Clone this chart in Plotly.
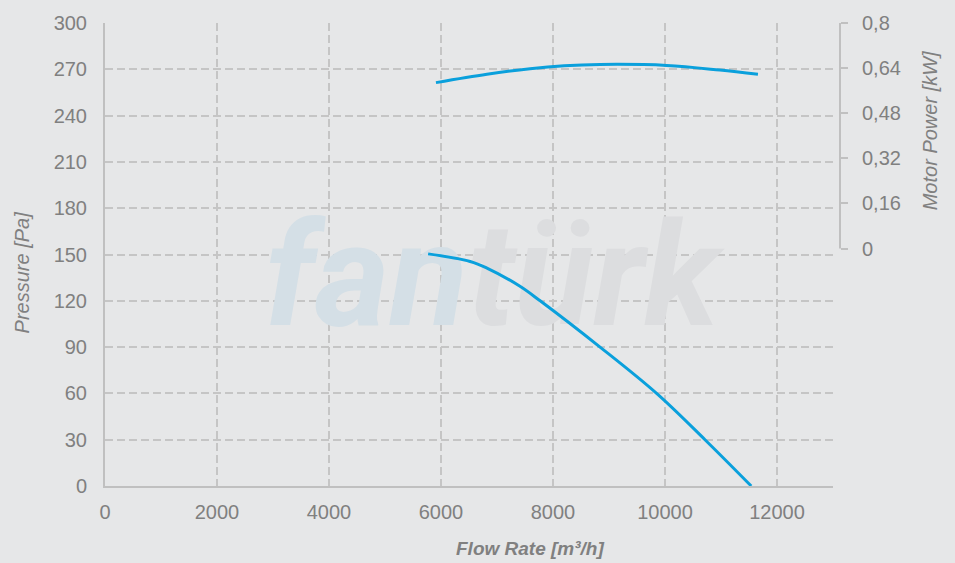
import plotly.graph_objects as go

# ---- data ----
flow_pressure = [5770, 6520, 6820, 7410, 7770, 8840, 9850, 10714, 11540]
pressure_pa = [150.4, 145.5, 141.2, 129.4, 120.0, 90.0, 60.0, 30.0, 0.0]

flow_power = [5910, 6820, 7590, 8200, 8840, 10030, 10980, 11660]
power_kw = [0.5885, 0.618, 0.638, 0.6485, 0.653, 0.6495, 0.633, 0.618]

x_ticks = [0, 2000, 4000, 6000, 8000, 10000, 12000]
y_ticks = [0, 30, 60, 90, 120, 150, 180, 210, 240, 270, 300]
y2_ticks = [0, 0.16, 0.32, 0.48, 0.64, 0.8]
y2_ticktext = ["0", "0,16", "0,32", "0,48", "0,64", "0,8"]

X_RANGE = [0, 13000]
Y_RANGE = [0, 300]
Y2_MAX = 0.8
Y2_MIN = -0.8423  # so that 0 kW sits at half height of the plot like the reference

BG = "#e6e7e8"
GRID = "#c5c5c5"
AXIS = "#c0c0c0"
TXT = "#808080"
LINE = "#0aa0dc"
FONT = "Liberation Sans, Arial, sans-serif"

fig = go.Figure()

# watermark (behind the curves)
fig.add_trace(go.Scatter(
    x=[X_RANGE[1] * 0.5314], y=[Y_RANGE[1] * 0.425],
    mode="text",
    text=["<span style='color:#d4dfe6'>fan</span><span style='color:#dcdddf'>türk</span>"],
    textposition="middle center",
    textfont=dict(family="Roboto, Liberation Sans, sans-serif",
                  size=144, weight="bold", style="italic"),
    hoverinfo="skip", showlegend=False,
))

fig.add_trace(go.Scatter(
    x=flow_pressure, y=pressure_pa, mode="lines",
    line=dict(color=LINE, width=3, shape="spline", smoothing=1.0),
    showlegend=False, name="Pressure",
))
fig.add_trace(go.Scatter(
    x=flow_power, y=power_kw, mode="lines", yaxis="y2",
    line=dict(color=LINE, width=3, shape="spline", smoothing=1.0),
    showlegend=False, name="Motor Power",
))

fig.update_layout(
    width=955, height=563,
    margin=dict(l=105, r=115, t=20, b=77, pad=0),
    paper_bgcolor=BG, plot_bgcolor="rgba(0,0,0,0)",
    font=dict(family=FONT, color=TXT, size=20),
    xaxis=dict(
        range=X_RANGE, domain=[0, 728 / 735], tickvals=x_ticks, tickformat="d",
        showgrid=True, gridcolor=GRID, gridwidth=2, griddash="8px,4px",
        showline=True, linecolor=AXIS, linewidth=2, zeroline=False,
        ticks="", ticklabelstandoff=7,
        tickfont=dict(size=20, color=TXT, family=FONT),
    ),
    yaxis=dict(
        range=Y_RANGE, tickvals=y_ticks,
        showgrid=True, gridcolor=GRID, gridwidth=2, griddash="8px,4px",
        showline=True, linecolor=AXIS, linewidth=2, zeroline=False,
        ticks="", ticklabelstandoff=12,
        tickfont=dict(size=20, color=TXT, family=FONT),
    ),
    yaxis2=dict(
        overlaying="y", side="right", anchor="free", position=1.0,
        range=[Y2_MIN, Y2_MAX], tickvals=y2_ticks, ticktext=y2_ticktext,
        showgrid=False, zeroline=False, showline=False,
        ticks="outside", ticklen=7, tickwidth=2, tickcolor=AXIS,
        ticklabelstandoff=10,
        tickfont=dict(size=20, color=TXT, family=FONT),
    ),
    shapes=[dict(
        type="line", xref="paper", yref="y2", x0=1.0, x1=1.0, y0=0, y1=Y2_MAX,
        line=dict(color=AXIS, width=2), layer="above",
    )],
    annotations=[
        dict(text="Pressure [Pa]", xref="paper", yref="paper", x=-0.1129, y=0.4614,
             textangle=-90, showarrow=False, xanchor="center", yanchor="middle",
             font=dict(size=20, color=TXT, family=FONT, style="italic")),
        dict(text="Motor Power [kW]", xref="paper", yref="paper", x=1.1224, y=0.7682,
             textangle=-90, showarrow=False, xanchor="center", yanchor="middle",
             font=dict(size=20, color=TXT, family=FONT, style="italic")),
        dict(text="Flow Rate [m³/h]", xref="paper", yref="paper", x=0.578, y=-0.1352,
             showarrow=False, xanchor="center", yanchor="middle",
             font=dict(size=19, color=TXT, family=FONT, style="italic", weight="bold")),
    ],
)

fig.write_html(
    "out.html",
    config={"displayModeBar": False},
    post_script="document.body.style.margin='0';document.body.style.overflow='hidden';",
)
